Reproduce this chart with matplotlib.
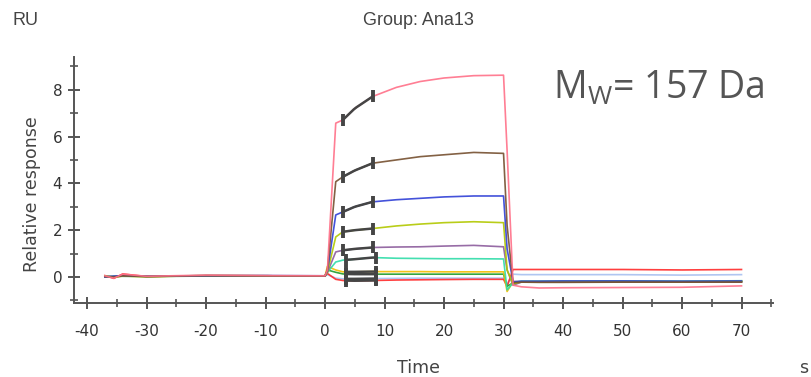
import numpy as np
import matplotlib
matplotlib.use("Agg")
import matplotlib.pyplot as plt
from matplotlib.ticker import MultipleLocator

plt.rcParams["axes.unicode_minus"] = False

# sensorgram time points (s)
t = [-37, -35.5, -34, -30, -20, -10, 0, 0.4, 1.8, 3, 5, 8, 12, 16, 20, 25, 30,
     30.6, 31.6, 33, 36, 40, 50, 60, 70]

# relative response for each concentration
pink = [0.05, -0.05, 0.12, 0.03, 0.08, 0.06, 0.05, 0.3, 6.57, 6.71, 7.2, 7.71, 8.1,
        8.35, 8.5, 8.6, 8.62, 5.4, -0.35, -0.42, -0.47, -0.46, -0.45, -0.44, -0.38]
brown = [0.02, 0.0, 0.05, 0.02, 0.06, 0.05, 0.04, 0.3, 4.07, 4.28, 4.55, 4.86, 5.0,
         5.14, 5.22, 5.32, 5.28, 2.2, -0.25, -0.22, -0.23, -0.23, -0.22, -0.22, -0.22]
blue = [0.0, 0.03, 0.06, 0.03, 0.05, 0.06, 0.05, 0.25, 2.65, 2.78, 3.0, 3.21, 3.3,
        3.36, 3.42, 3.46, 3.46, 1.2, -0.2, -0.18, -0.18, -0.17, -0.17, -0.18, -0.17]
ygreen = [0.03, 0.0, 0.04, 0.02, 0.05, 0.05, 0.04, 0.2, 1.71, 1.93, 2.0, 2.07, 2.18,
          2.26, 2.32, 2.36, 2.32, 0.3, -0.3, -0.2, -0.2, -0.19, -0.19, -0.2, -0.18]
purple = [0.02, 0.02, 0.05, 0.03, 0.05, 0.05, 0.04, 0.2, 1.07, 1.14, 1.2, 1.26, 1.28,
          1.29, 1.32, 1.35, 1.29, 0.3, -0.35, -0.22, -0.22, -0.22, -0.21, -0.22, -0.21]
teal = [0.04, 0.01, 0.05, 0.03, 0.06, 0.05, 0.04, 0.2, 0.64, 0.72, 0.76, 0.83, 0.8,
        0.79, 0.78, 0.78, 0.77, -0.55, -0.25, -0.18, -0.18, -0.18, -0.17, -0.18, -0.16]
yellow = [0.02, 0.0, 0.04, 0.02, 0.05, 0.05, 0.04, 0.45, 0.3, 0.22, 0.22, 0.23, 0.23,
          0.23, 0.22, 0.22, 0.22, -0.62, -0.2, -0.2, -0.2, -0.2, -0.19, -0.2, -0.19]
green = [0.0, 0.03, 0.03, 0.02, 0.04, 0.05, 0.04, 0.3, 0.2, 0.13, 0.12, 0.12, 0.12,
         0.12, 0.12, 0.12, 0.12, -0.4, -0.25, -0.22, -0.22, -0.21, -0.21, -0.22, -0.2]
lblue = [0.03, -0.02, 0.05, 0.02, 0.05, 0.05, 0.04, 0.1, -0.05, -0.08, -0.08, -0.07,
         -0.06, -0.05, -0.05, -0.05, -0.05, -0.3, 0.12, 0.1, 0.1, 0.1, 0.1, 0.08, 0.1]
red = [0.06, -0.06, 0.13, 0.02, 0.06, 0.05, 0.04, 0.15, -0.1, -0.15, -0.16, -0.15,
       -0.13, -0.12, -0.11, -0.1, -0.1, -0.4, 0.32, 0.32, 0.32, 0.32, 0.32, 0.3, 0.32]

curves = [
    (lblue, "#a8c0f0", (3.6, 8.6)),
    (red, "#ff2a2a", (3.6, 8.6)),
    (green, "#1f9a2a", (3.6, 8.6)),
    (yellow, "#f2bd00", (3.6, 8.6)),
    (teal, "#2fdca8", (3.6, 8.6)),
    (purple, "#8c5c9c", (3.0, 8.0)),
    (ygreen, "#b2c800", (3.0, 8.0)),
    (blue, "#2f3fd6", (3.0, 8.0)),
    (brown, "#765030", (3.0, 8.0)),
    (pink, "#ff7088", (3.0, 8.0)),
]

fig = plt.figure(figsize=(8.11, 3.77), dpi=100)
ax = fig.add_axes([0.0912, 0.197, 0.862, 0.652])

for y, col, (r0, r1) in curves:
    ax.plot(t, y, color=col, lw=1.2, alpha=0.9, zorder=2)

# report point segments
for y, col, (r0, r1) in curves:
    seg_t = np.linspace(r0, r1, 12)
    seg_y = np.interp(seg_t, t, y)
    ax.plot(seg_t, seg_y, color="#454545", lw=1.8, zorder=3)
    ax.plot([r0, r1], np.interp([r0, r1], t, y), ls="none", marker="|",
            ms=9, mew=2.8, color="#454545", zorder=4)

ax.set_xlim(-42.2, 75.3)
ax.set_ylim(-1.1, 9.4)
ax.xaxis.set_major_locator(MultipleLocator(10))
ax.xaxis.set_minor_locator(MultipleLocator(5))
ax.set_yticks([0, 2, 4, 6, 8])
ax.set_yticks([-1, 1, 3, 5, 7, 9], minor=True)

for side in ["top", "right"]:
    ax.spines[side].set_visible(False)
for side in ["left", "bottom"]:
    ax.spines[side].set_color("#555555")
    ax.spines[side].set_linewidth(1.4)

ax.tick_params(which="major", direction="inout", length=9, width=1.4,
               color="#555555", labelsize=11, labelcolor="#333333")
ax.tick_params(which="minor", direction="inout", length=6, width=1.2,
               color="#555555")
ax.tick_params(axis="x", which="major", pad=11)
ax.tick_params(axis="y", which="major", pad=4)

ax.set_ylabel("Relative response", fontsize=12.5, color="#444444")
ax.yaxis.set_label_coords(-0.047, 0.44)

fig.text(0.015, 0.945, "RU", fontsize=13, color="#444444",
         family="Liberation Sans", va="center")
fig.text(0.516, 0.945, "Group: Ana13", fontsize=13, color="#444444",
         family="Liberation Sans", ha="center", va="center")
fig.text(0.516, 0.025, "Time", fontsize=12.5, color="#444444", ha="center",
         va="center")
fig.text(0.996, 0.025, "s", fontsize=12.5, color="#444444", ha="right",
         va="center")
fig.text(0.682, 0.765, r"M$_\mathregular{W}$= 157 Da", fontsize=27,
         color="#555555", family="Open Sans", va="center")

fig.savefig("out.png", dpi=100)
